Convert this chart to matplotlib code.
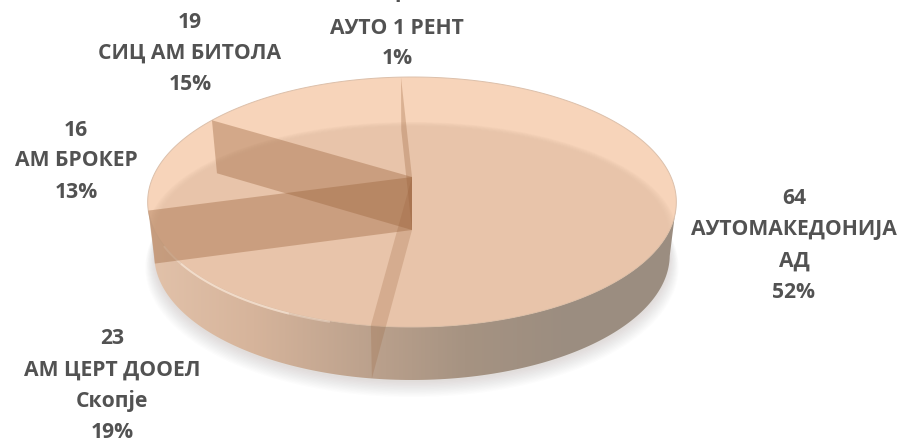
import numpy as np
import matplotlib
matplotlib.use('Agg')
import matplotlib.pyplot as plt
from matplotlib.patches import Ellipse, Polygon

plt.rcParams['font.family'] = ['Open Sans', 'DejaVu Sans']

values = [64, 23, 16, 19, 1]
labels = [['АУТОМАКЕДОНИЈА', 'АД'], ['АМ ЦЕРТ ДООЕЛ', 'Скопје'], ['АМ БРОКЕР'], ['СИЦ АМ БИТОЛА'], ['АУТО 1 РЕНТ']]
percents = ['52%', '19%', '13%', '15%', '1%']
label_x = [794, 112, 76, 190, 397]
label_y = [199, 339, 130, 22, -3]
wall_alpha = [0.24, 0.38, 0.38, 0.3]

# perspective of the pie, pixels
cx, cy = 412, 177
rx, sy, k = 259, 120, 0.2
depth = 53


def project(deg, r=1.0, dy=0, xs=1.0):
    a = np.radians(deg)
    u, v = r * np.sin(a), r * np.cos(a)
    w = 1 + k * v
    return cx + xs * rx * u / w, cy + dy - sy * v / w


fig = plt.figure(figsize=(9.04, 4.38), dpi=100)
ax = fig.add_axes([0, 0, 1, 1])
ax.set_xlim(0, 904)
ax.set_ylim(438, 0)
ax.axis('off')

deg = np.linspace(0, 360, 361)
top = np.column_stack(project(deg))
bot = np.column_stack(project(deg, dy=depth, xs=0.975))

# soft shadow
for i in range(12):
    s = np.column_stack(project(deg, r=1 + i * 0.003, dy=depth + 2 + i * 0.8, xs=0.975))
    ax.add_patch(Polygon(s, fc='#6e6258', ec='none', alpha=0.016, zorder=1))

# side wall with a horizontal gradient
left, right = top[:, 0].argmin(), top[:, 0].argmax()
front = top[right:left + 1]
side = np.vstack([front, bot[left:right - 1:-1]])
poly = Polygon(side, fc='none', ec='none', zorder=2)
ax.add_patch(poly)
stops = np.array([[226, 194, 170], [214, 180, 155], [190, 163, 142], [166, 147, 130], [155, 141, 128], [156, 142, 129]])
grad = np.array([np.interp(np.linspace(0, 1, 600), np.linspace(0, 1, 6), stops[:, c]) for c in range(3)]).T / 255
im = ax.imshow(grad[None, :, :], extent=[148, 676, 438, 0], aspect='auto', zorder=2)
im.set_clip_path(poly)
ax.set_xlim(0, 904)
ax.set_ylim(438, 0)

# top face and its inner shading
face = Polygon(top, fc='#f7d4ba', ec='#dcc0ab', lw=0.7, zorder=3)
ax.add_patch(face)
for i in range(6):
    e = Ellipse((412, 235), 2 * (265 - i * 1.5), 2 * (113 - i * 0.8), fc='#e3bfa5', ec='none', alpha=0.16, zorder=4)
    ax.add_patch(e)
    e.set_clip_path(face)

# highlight along the front edge
ax.plot(top[195:240, 0], top[195:240, 1] + 1, color='#fbeadb', lw=1.4, alpha=0.4, zorder=5)
ax.plot(top[203:232, 0], top[203:232, 1] + 1, color='#fbeadb', lw=1.4, alpha=0.5, zorder=5)

# translucent walls at every slice boundary
bounds = np.cumsum(values)[:-1] / sum(values) * 360
for b, al in zip(bounds, wall_alpha):
    x0, y0 = project(b)
    x1, y1 = project(b, dy=depth, xs=0.975)
    ax.add_patch(Polygon([(cx, cy), (x0, y0), (x1, y1), (cx, cy + depth)],
                         fc='#9a623a', ec='none', alpha=al, zorder=6))

for name, pct, v, lx, ly in zip(labels, percents, values, label_x, label_y):
    for i, line in enumerate([str(v)] + name + [pct]):
        ax.text(lx, ly + i * 31, line, ha='center', va='center', fontsize=15.2,
                fontweight='bold', color='#525252', zorder=8)

fig.savefig('out.png', dpi=100)
